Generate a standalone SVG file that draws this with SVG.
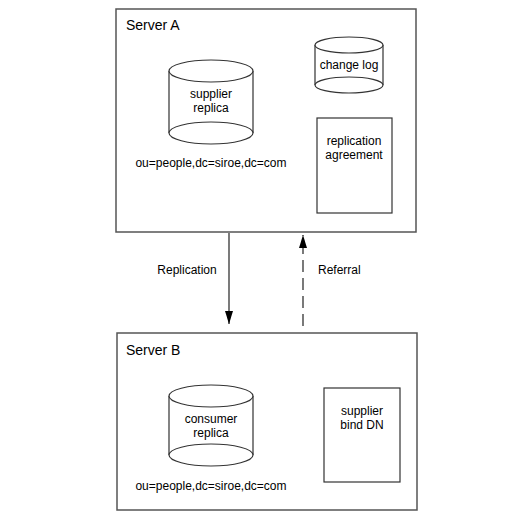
<svg xmlns="http://www.w3.org/2000/svg" width="515" height="517" viewBox="0 0 515 517">
<defs>
<style>
.box{fill:#fff;stroke:#555;stroke-width:1.5}
.shape{fill:#fff;stroke:#333;stroke-width:1.2}
text{font-family:"Liberation Sans",Arial,sans-serif;font-size:12px;fill:#000}
.title{font-size:14px}
.mid{text-anchor:middle}
.conn{stroke:#222;stroke-width:1.2;fill:none}
</style>
<marker id="ah" viewBox="0 0 8 13" refX="8" refY="6.5" markerWidth="8" markerHeight="13" markerUnits="userSpaceOnUse" orient="auto-start-reverse">
<path d="M0,0 L8,6.5 L0,13 Z" fill="#000" transform="rotate(0)"/>
</marker>
<marker id="ah2" viewBox="0 0 13 8" refX="13" refY="4" markerWidth="13" markerHeight="8" markerUnits="userSpaceOnUse" orient="auto">
<path d="M0,0 L13,4 L0,8 Z" fill="#000"/>
</marker>
</defs>
<rect width="515" height="517" fill="#fff"/>
<g id="serverA">
<rect class="box" x="116" y="9" width="300" height="223"/>
<text class="title" x="126" y="30">Server A</text>
</g>
<g id="supplierReplica">
<path class="shape" d="M169,71 V133 A42,11 0 0 0 253,133 V71"/>
<ellipse class="shape" cx="211" cy="71" rx="42" ry="11"/>
<path class="shape" d="M169,133 A42,11 0 0 1 253,133"/>
<text class="mid" x="211" y="98">supplier</text>
<text class="mid" x="211" y="112">replica</text>
<text class="mid" x="211" y="167">ou=people,dc=siroe,dc=com</text>
</g>
<g id="changeLog">
<path class="shape" d="M315,45 V85 A34,8 0 0 0 383,85 V45"/>
<ellipse class="shape" cx="349" cy="45" rx="34" ry="8"/>
<path class="shape" d="M315,85 A34,8 0 0 1 383,85"/>
<text class="mid" x="349" y="69">change log</text>
</g>
<g id="replicationAgreement">
<rect class="shape" x="317" y="118" width="75" height="95"/>
<text class="mid" x="354" y="145">replication</text>
<text class="mid" x="354" y="159">agreement</text>
</g>
<g id="serverB">
<rect class="box" x="117" y="333" width="300" height="177"/>
<text class="title" x="126" y="355">Server B</text>
</g>
<g id="consumerReplica">
<path class="shape" d="M169,396 V455 A42,11 0 0 0 253,455 V396"/>
<ellipse class="shape" cx="211" cy="396" rx="42" ry="11"/>
<path class="shape" d="M169,455 A42,11 0 0 1 253,455"/>
<text class="mid" x="211" y="423">consumer</text>
<text class="mid" x="211" y="437">replica</text>
<text class="mid" x="211" y="490">ou=people,dc=siroe,dc=com</text>
</g>
<g id="supplierBindDN">
<rect class="shape" x="324" y="388" width="76" height="94"/>
<text class="mid" x="362" y="415">supplier</text>
<text class="mid" x="362" y="429">bind DN</text>
</g>
<g id="connectors">
<line class="conn" x1="229" y1="233" x2="229" y2="324" marker-end="url(#ah2)"/>
<text class="mid" x="187" y="274">Replication</text>
<line class="conn" x1="303" y1="326" x2="303" y2="235" stroke-dasharray="12,6" marker-end="url(#ah2)"/>
<text x="318" y="274">Referral</text>
</g>
</svg>
